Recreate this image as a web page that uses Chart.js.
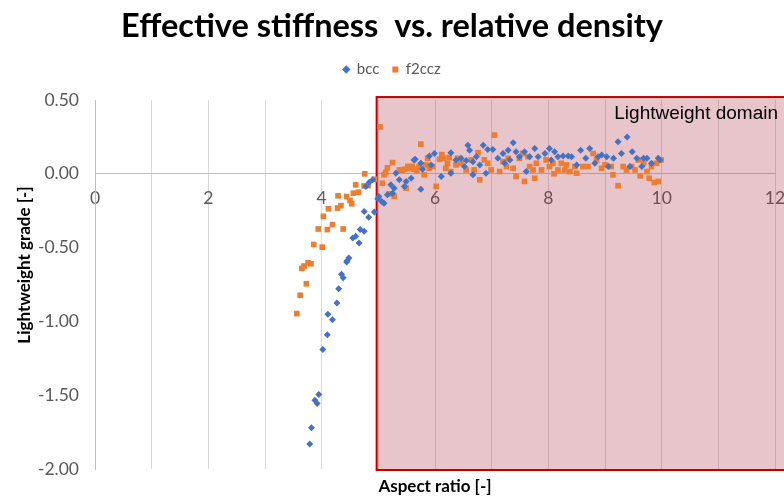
<!DOCTYPE html>
<html>
<head>
<meta charset="utf-8">
<script src="https://cdn.jsdelivr.net/npm/chart.js@4"></script>
<style>
  html, body { margin: 0; padding: 0; background: #ffffff; }
  #wrap { width: 784px; height: 497px; position: relative; }
</style>
</head>
<body>
<div id="wrap"><canvas id="c"></canvas></div>
<script>
// Aspect ratio (x) and lightweight grade (y) for the bcc lattice
const bccX = [
  3.79, 3.82, 3.88, 3.92, 3.95, 4.02, 4.10, 4.11, 4.19, 4.27,
  4.30, 4.35, 4.38, 4.44, 4.45, 4.48, 4.55, 4.60, 4.66, 4.68,
  4.75, 4.75, 4.83, 4.93, 4.99, 4.84, 4.78, 4.90,
  5.01, 5.06, 5.10, 5.16, 5.22, 5.25, 5.28, 5.31, 5.37, 5.46,
  5.49, 5.58, 5.63, 5.65, 5.75, 5.75, 5.78, 5.90, 5.93, 5.99,
  6.11, 6.28, 6.28, 6.37, 6.46, 6.52, 6.55, 6.58, 6.61, 6.67,
  6.67, 6.73, 6.79, 6.85, 6.90, 6.93, 7.02, 7.11, 7.20, 7.23,
  7.29, 7.32, 7.38, 7.43, 7.49, 7.58, 7.61, 7.67, 7.76, 7.82,
  7.94, 8.02, 8.05, 8.11, 8.17, 8.26, 8.35, 8.41, 8.50, 8.57,
  8.66, 8.73, 8.82, 8.88, 8.94, 9.03, 9.06, 9.15, 9.23, 9.29,
  9.39, 9.44, 9.48, 9.56, 9.65, 9.68, 9.74, 9.82, 9.94, 9.97
];
const bccY = [
  -1.83, -1.72, -1.535, -1.557, -1.495, -1.19, -1.09, -0.951, -0.989, -0.875,
  -0.778, -0.681, -0.704, -0.598, -0.589, -0.57, -0.435, -0.423, -0.468, -0.378,
  -0.39, -0.255, -0.295, -0.259, -0.169, -0.057, -0.086, -0.041,
  -0.153, -0.187, -0.199, -0.142, -0.075, -0.131, -0.098, 0.004, -0.041, -0.086,
  -0.052, -0.03, 0.094, 0.098, 0.071, -0.104, 0.03, 0.12, 0.06, 0.138,
  -0.019, 0.143, 0.004, 0.093, 0.105, 0.049, 0.09, 0.194, 0.16, 0.082,
  -0.007, 0.116, 0.06, 0.194, 0.004, 0.165, 0.165, 0.105, 0.138, 0.071,
  0.16, 0.094, 0.21, 0.15, 0.116, 0.15, 0.015, 0.116, 0.172, 0.116,
  0.138, 0.172, 0.094, 0.15, 0.116, 0.12, 0.12, 0.116, 0.06, 0.16,
  0.105, 0.172, 0.071, 0.116, 0.127, 0.116, 0.049, 0.105, 0.217, 0.138,
  0.25, 0.049, 0.15, 0.105, 0.049, 0.105, 0.105, 0.071, 0.105, 0.094
];

// Aspect ratio (x) and lightweight grade (y) for the f2ccz lattice
const f2cczX = [
  3.56, 3.62, 3.65, 3.69, 3.73, 3.76, 3.81, 3.86, 3.94, 4.01,
  4.03, 4.10, 4.12, 4.19, 4.28, 4.29, 4.34, 4.38, 4.44, 4.50,
  4.53, 4.56, 4.60, 4.65, 4.75, 4.76, 4.82, 4.93,
  5.03, 5.07, 5.10, 5.13, 5.16, 5.19, 5.25, 5.28, 5.37, 5.42,
  5.46, 5.49, 5.52, 5.55, 5.60, 5.63, 5.68, 5.72, 5.75, 5.81,
  5.84, 5.87, 5.90, 5.96, 6.02, 6.08, 6.12, 6.15, 6.19, 6.22,
  6.25, 6.28, 6.37, 6.40, 6.46, 6.55, 6.64, 6.69, 6.76, 6.79,
  6.87, 6.93, 6.99, 7.05, 7.14, 7.20, 7.26, 7.29, 7.38, 7.43,
  7.49, 7.55, 7.58, 7.64, 7.67, 7.73, 7.76, 7.79, 7.88, 7.96,
  8.02, 8.08, 8.10, 8.17, 8.23, 8.29, 8.32, 8.38, 8.47, 8.50,
  8.61, 8.70, 8.79, 8.85, 8.94, 9.00, 9.11, 9.14, 9.23, 9.32,
  9.38, 9.47, 9.53, 9.59, 9.62, 9.68, 9.74, 9.78, 9.82, 9.87,
  9.91, 9.94, 9.99
];
const f2cczY = [
  -0.947, -0.823, -0.641, -0.625, -0.745, -0.603, -0.61, -0.479, -0.374, -0.497,
  -0.288, -0.378, -0.237, -0.344, -0.232, -0.149, -0.216, -0.374, -0.154, -0.18,
  -0.203, -0.131, -0.075, -0.125, -0.082, 0.0, -0.08, -0.037,
  0.318, -0.064, -0.007, 0.009, 0.04, -0.136, 0.076, -0.153, 0.026, 0.02,
  0.031, -0.097, 0.05, 0.037, 0.05, 0.031, 0.02, 0.049, 0.201, -0.007,
  0.06, 0.105, 0.037, 0.049, -0.085, 0.098, 0.13, 0.105, 0.037, 0.071,
  0.11, 0.015, 0.06, 0.105, 0.071, 0.026, 0.094, 0.026, 0.143, -0.041,
  0.094, 0.071, 0.026, 0.262, 0.015, 0.082, 0.049, 0.105, 0.037, -0.018,
  0.105, 0.138, -0.052, 0.116, 0.049, 0.026, -0.03, 0.071, 0.026, 0.094,
  0.049, 0.071, 0.0, 0.026, 0.071, 0.026, 0.06, 0.015, 0.049, 0.004,
  0.049, 0.049, 0.138, 0.094, 0.037, 0.06, 0.049, -0.007, -0.081, 0.049,
  0.026, 0.049, 0.026, 0.094, -0.014, 0.071, 0.015, -0.03, 0.049, -0.059,
  0.071, -0.052, 0.094
];

// Axis tick settings
const xTickStep = 1;
const xLabelEvery = 2;
const yTickStep = 0.5;

// Shaded lightweight domain (in data units)
const domainStart = 4.97;
const domainTop = 0.52;
const domainBottom = -2.0;

function toPoints(xs, ys) {
  return xs.map((x, i) => ({ x: x, y: ys[i] }));
}

// Empty layout box that keeps a gap between the legend and the plot
const legendGap = {
  id: 'legendGap',
  beforeInit(chart) {
    Chart.layouts.addBox(chart, {
      position: 'top',
      weight: 500,
      fullSize: true,
      options: {},
      left: 0, top: 0, right: 0, bottom: 0, width: 0, height: 0,
      update(maxWidth) { this.width = maxWidth; this.height = 13; },
      isHorizontal() { return true; },
      draw() {}
    });
  }
};

const domainPlugin = {
  id: 'domainPlugin',
  beforeDatasetsDraw(chart) {
    const { ctx, scales, width, chartArea } = chart;
    const left = scales.x.getPixelForValue(domainStart);
    const top = scales.y.getPixelForValue(domainTop);
    const bottom = scales.y.getPixelForValue(domainBottom) + 1;
    const right = width + 10;
    ctx.save();
    ctx.fillStyle = 'rgba(170, 45, 65, 0.28)';
    ctx.fillRect(left, top, right - left, bottom - top);
    ctx.strokeStyle = '#c00000';
    ctx.lineWidth = 2;
    ctx.strokeRect(left, top, right - left, bottom - top);
    ctx.fillStyle = '#000000';
    ctx.font = '19px "Liberation Sans", Arial, sans-serif';
    ctx.textAlign = 'right';
    ctx.textBaseline = 'middle';
    ctx.fillText('Lightweight domain', chartArea.right + 3, top + 17);
    ctx.restore();
  },
  afterDraw(chart) {
    const { ctx } = chart;
    ctx.save();
    ctx.translate(25, 265);
    ctx.rotate(-Math.PI / 2);
    ctx.fillStyle = '#000000';
    ctx.font = 'bold 17px Lato, sans-serif';
    ctx.textAlign = 'center';
    ctx.textBaseline = 'middle';
    ctx.fillText('Lightweight grade [-]', 0, 0);
    ctx.restore();
  }
};

const tickFont = { family: 'Lato', size: 17.5 };
const tickColor = '#595959';

new Chart(document.getElementById('c'), {
  type: 'scatter',
  data: {
    datasets: [
      {
        label: 'bcc',
        data: toPoints(bccX, bccY),
        pointStyle: 'rectRot',
        pointRadius: 3.5,
        backgroundColor: '#4472c4',
        borderWidth: 0
      },
      {
        label: 'f2ccz',
        data: toPoints(f2cczX, f2cczY),
        pointStyle: 'rect',
        pointRadius: 4,
        backgroundColor: '#ed7d31',
        borderWidth: 0
      }
    ]
  },
  options: {
    responsive: true,
    maintainAspectRatio: false,
    animation: false,
    layout: { padding: { left: 0, right: 0, top: 0, bottom: 0 } },
    plugins: {
      title: {
        display: true,
        text: 'Effective stiffness  vs. relative density',
        color: '#000000',
        font: { family: 'Lato', size: 32.5, weight: 'bold' },
        padding: { top: 7.5, bottom: 2.5 }
      },
      legend: {
        labels: {
          usePointStyle: true,
          boxWidth: 6,
          boxHeight: 6,
          color: '#595959',
          font: { family: 'Lato', size: 15 },
          padding: 13
        }
      },
      tooltip: { enabled: false }
    },
    scales: {
      x: {
        type: 'linear',
        min: 0,
        max: 12,
        position: { y: 0 },
        ticks: {
          stepSize: xTickStep,
          autoSkip: false,
          maxRotation: 0,
          callback: v => (Math.round(v) % xLabelEvery === 0 ? String(v) : ''),
          color: tickColor,
          font: tickFont,
          padding: 14
        },
        grid: { color: '#d9d9d9', drawTicks: false },
        border: { color: '#bfbfbf' },
        afterFit(scale) { scale.paddingLeft = 0; scale.paddingRight = 9; }
      },
      x2: {
        type: 'linear',
        position: 'bottom',
        min: 0,
        max: 12,
        ticks: { display: false },
        grid: { display: false },
        border: { display: false },
        title: {
          display: true,
          text: 'Aspect ratio [-]',
          color: '#000000',
          font: { family: 'Lato', size: 17, weight: 'bold' },
          padding: { top: 0, bottom: 0 }
        },
        afterFit(scale) { scale.paddingLeft = 0; scale.paddingRight = 9; scale.height = 28; }
      },
      y: {
        min: -2,
        max: 0.5,
        ticks: {
          stepSize: yTickStep,
          callback: v => Number(v).toFixed(2),
          color: tickColor,
          font: tickFont,
          padding: 16
        },
        grid: { display: false, drawTicks: false },
        border: { color: '#bfbfbf' },
        afterFit(scale) { scale.width = 95; }
      }
    }
  },
  plugins: [legendGap, domainPlugin]
});
</script>
</body>
</html>
